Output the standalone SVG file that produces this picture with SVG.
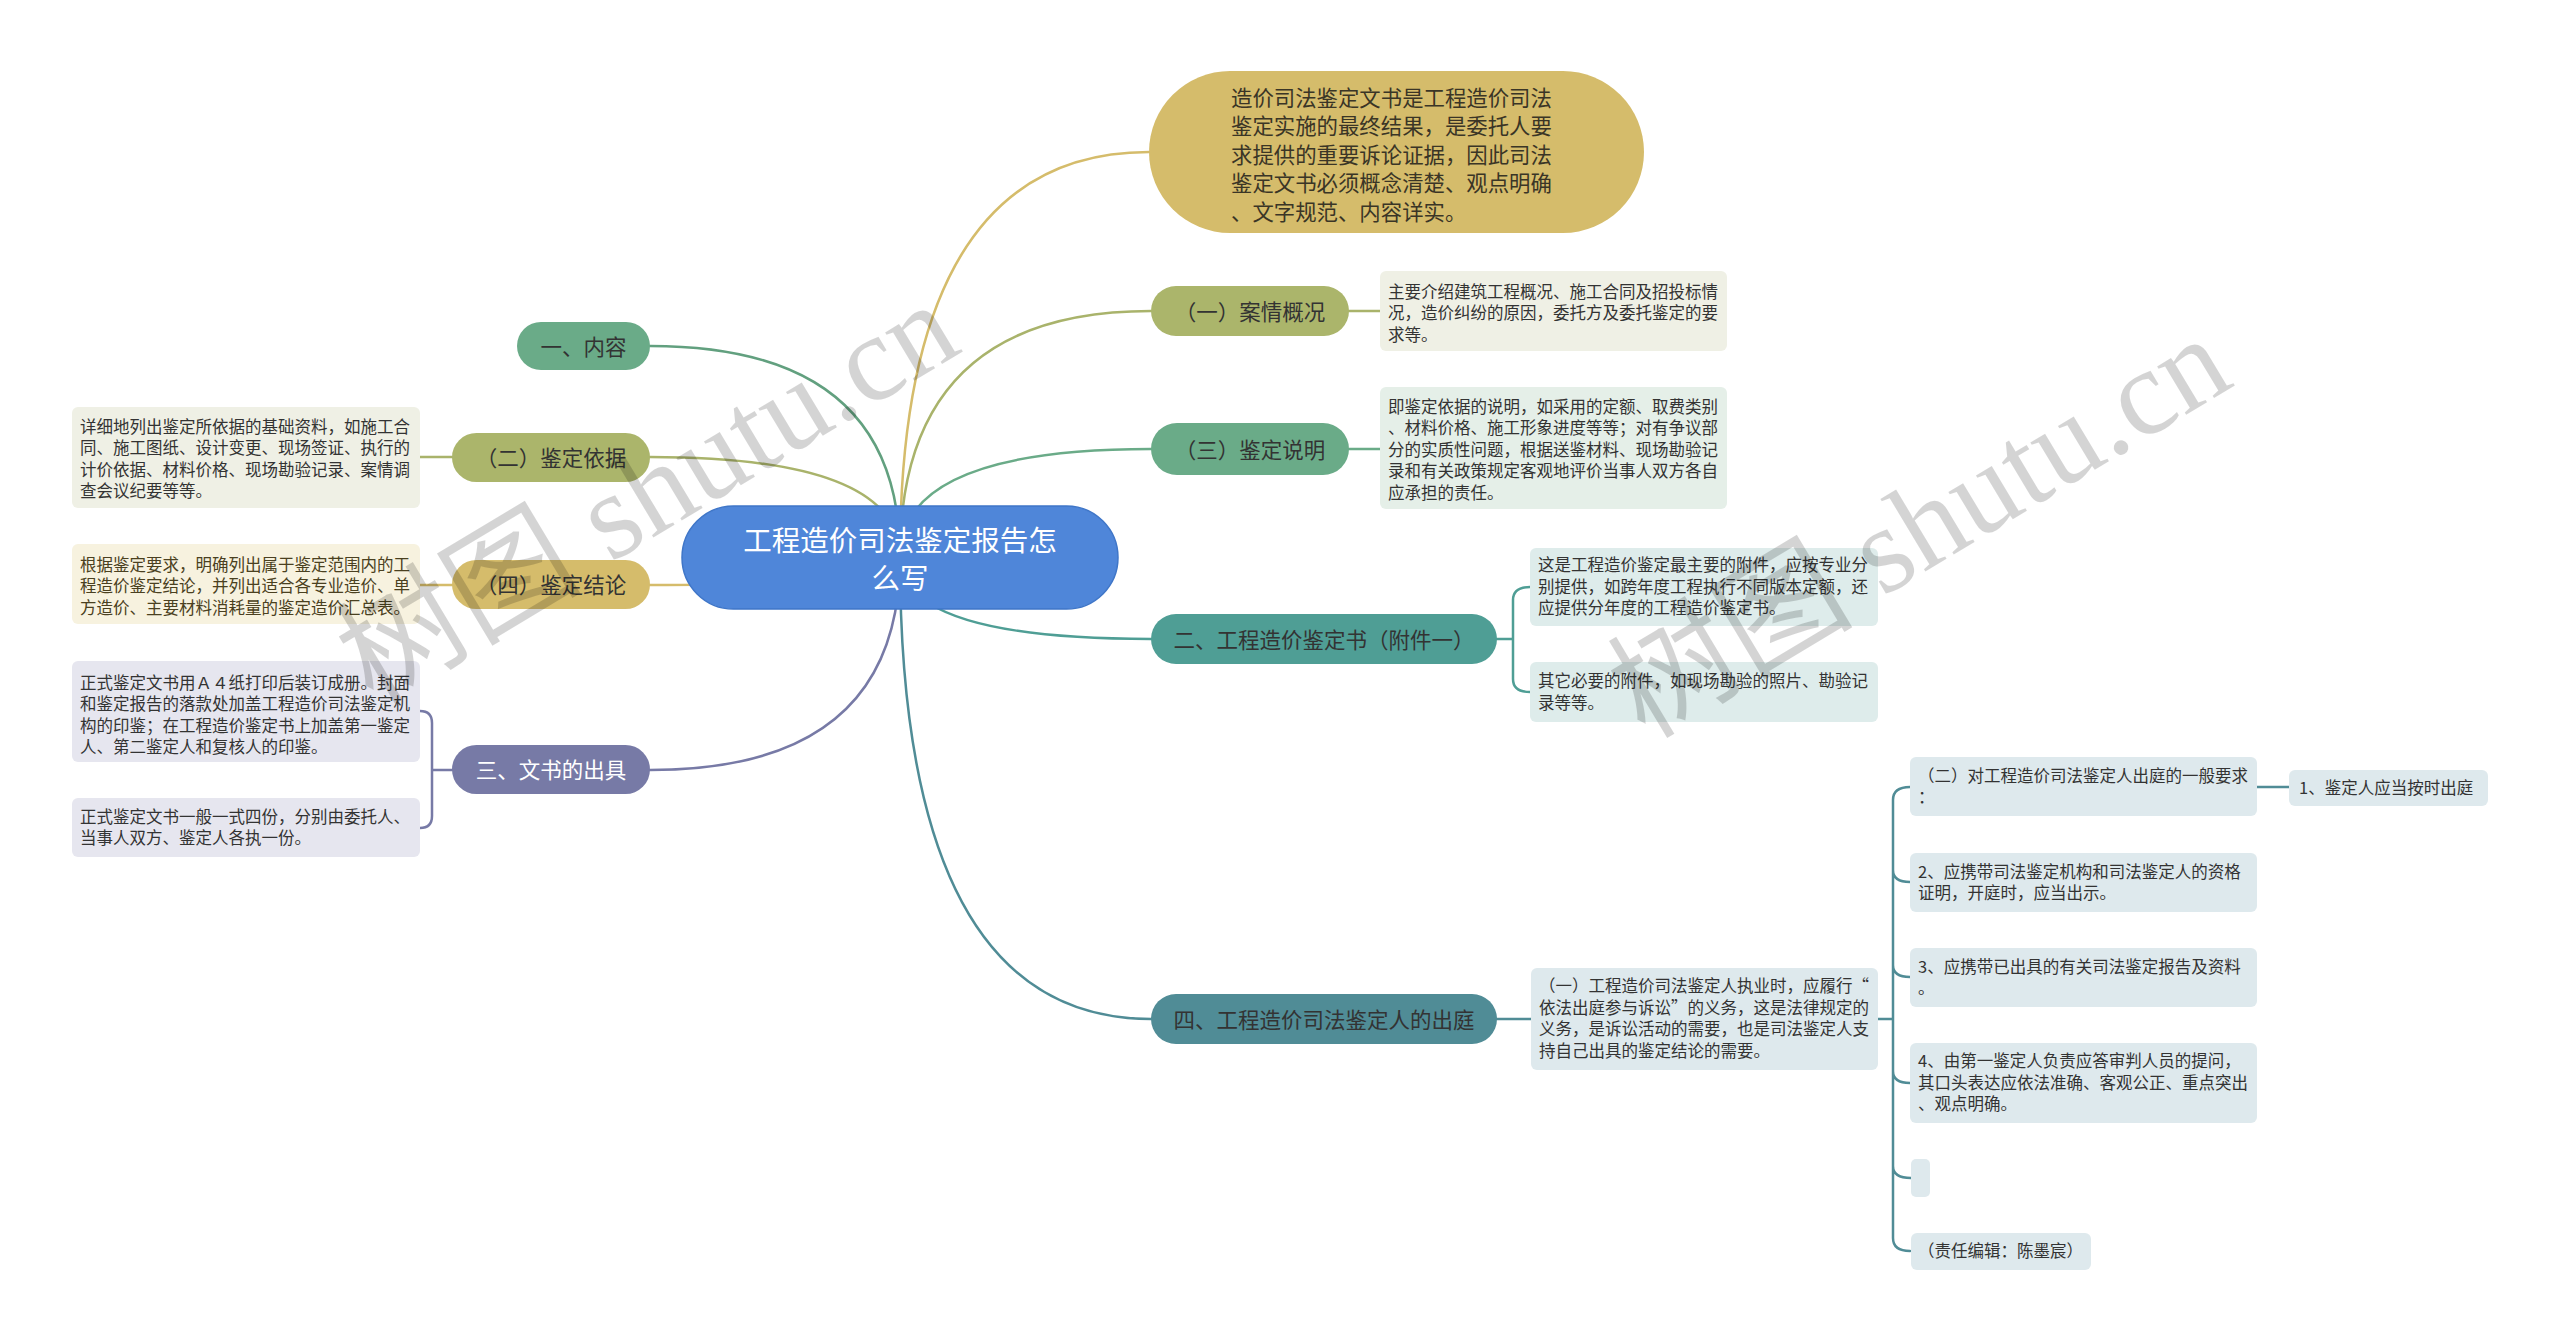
<svg xmlns="http://www.w3.org/2000/svg" width="2560" height="1342" viewBox="0 0 2560 1342">
<style>
text{font-family:"Noto Sans CJK SC","Noto Sans",sans-serif;}
.lbl{font-size:21.5px;fill:#333;text-anchor:middle;dominant-baseline:central;}
.lblw{font-size:21.5px;fill:#fff;text-anchor:middle;dominant-baseline:central;}
.txt{font-size:16.5px;fill:#333;dominant-baseline:central;}
.big{font-size:21.4px;fill:#3a3526;dominant-baseline:central;}
.ctr{font-size:28.5px;fill:#fff;text-anchor:middle;dominant-baseline:central;}
.e{fill:none;stroke-width:2.5;stroke-linecap:round;}
.wm{font-family:"Liberation Serif","Noto Sans CJK SC",serif;font-size:123px;fill:#000;fill-opacity:0.17;}
</style>
<rect width="2560" height="1342" fill="#fff"/>
<g id="connectors">
<path class="e" stroke="#62a07f" d="M900,557 Q900,346 650,346"/>
<path class="e" stroke="#a9b36b" d="M900,557 Q900,457 650,457"/>
<path class="e" stroke="#d5bc6b" d="M900,557 Q900,585 650,585"/>
<path class="e" stroke="#777aa6" d="M900,557 Q900,770 650,770"/>
<path class="e" stroke="#d5bc6b" d="M900,557 Q900,152 1149,152"/>
<path class="e" stroke="#a9b36b" d="M900,557 Q900,311 1151,311"/>
<path class="e" stroke="#6aab88" d="M900,557 Q900,449 1151,449"/>
<path class="e" stroke="#4f9e95" d="M900,557 Q900,639 1151,639"/>
<path class="e" stroke="#508c96" d="M900,557 Q900,1019 1151,1019"/>
<path class="e" stroke="#a9b36b" d="M420,457 L452,457"/>
<path class="e" stroke="#d5bc6b" d="M420,585 L452,585"/>
<path class="e" stroke="#777aa6" d="M452,770 L432,770 M420,711 Q432,711 432,723 L432,816 Q432,828 420,828"/>
<path class="e" stroke="#a9b36b" d="M1349,311 L1380,311"/>
<path class="e" stroke="#6aab88" d="M1349,449 L1380,449"/>
<path class="e" stroke="#4f9e95" d="M1497,639 L1513,639 M1530,587 Q1513,587 1513,600 L1513,679 Q1513,692 1530,692"/>
<path class="e" stroke="#508c96" d="M1497,1019 L1531,1019 M1878,1019 L1893,1019 M1910,787 Q1893,787 1893,800 L1893,1238 Q1893,1251 1910,1251 M1893,870 Q1893,882 1910,882 M1893,965 Q1893,977 1910,977 M1893,1071 Q1893,1083 1910,1083 M1893,1166 Q1893,1178 1911,1178 M2257,787 L2289,787"/>
</g>
<g id="center">
<rect x="682" y="506" width="436" height="103" rx="51.5" fill="#4f86d9" stroke="#3f76c8" stroke-width="1.5"/>
<text class="ctr" x="900" y="538">工程造价司法鉴定报告怎</text>
<text class="ctr" x="900" y="576">么写</text>
</g>
<g id="intro">
<rect x="1149" y="71" width="495" height="162" rx="81" fill="#d5bc6b"/>
<text class="big"><tspan x="1231" y="95.5">造价司法鉴定文书是工程造价司法</tspan><tspan x="1231" y="124">鉴定实施的最终结果，是委托人要</tspan><tspan x="1231" y="152.5">求提供的重要诉论证据，因此司法</tspan><tspan x="1231" y="181">鉴定文书必须概念清楚、观点明确</tspan><tspan x="1231" y="209.5">、文字规范、内容详实。</tspan></text>
</g>
<g id="n-neirong">
<rect x="517" y="322" width="133" height="48" rx="24" fill="#6aab88"/>
<text class="lbl" x="583.5" y="345">一、内容</text>
</g>
<g id="n-yiju">
<rect x="452" y="433" width="198" height="49" rx="24.5" fill="#abb56b"/>
<text class="lbl" x="551" y="456.5">（二）鉴定依据</text>
</g>
<g id="n-yiju-desc">
<rect x="72" y="407" width="348" height="101" rx="6" fill="#eff0e5"/>
<text class="txt"><tspan x="80" y="425.5">详细地列出鉴定所依据的基础资料，如施工合</tspan><tspan x="80" y="447">同、施工图纸、设计变更、现场签证、执行的</tspan><tspan x="80" y="468.5">计价依据、材料价格、现场勘验记录、案情调</tspan><tspan x="80" y="490">查会议纪要等等。</tspan></text>
</g>
<g id="n-jielun">
<rect x="452" y="560" width="198" height="49" rx="24.5" fill="#d5bc6b"/>
<text class="lbl" x="551" y="583.5">（四）鉴定结论</text>
</g>
<g id="n-jielun-desc">
<rect x="72" y="544" width="348" height="80" rx="6" fill="#f7f2df"/>
<text class="txt" style="fill:#4a4020"><tspan x="80" y="563.5">根据鉴定要求，明确列出属于鉴定范围内的工</tspan><tspan x="80" y="585">程造价鉴定结论，并列出适合各专业造价、单</tspan><tspan x="80" y="606.5">方造价、主要材料消耗量的鉴定造价汇总表。</tspan></text>
</g>
<g id="n-chuju">
<rect x="452" y="745" width="198" height="49" rx="24.5" fill="#777aa6"/>
<text class="lblw" x="551" y="768.5">三、文书的出具</text>
</g>
<g id="n-chuju-d1">
<rect x="72" y="661" width="348" height="101" rx="6" fill="#e6e6ef"/>
<text class="txt"><tspan x="80" y="681.5">正式鉴定文书用Ａ４纸打印后装订成册。封面</tspan><tspan x="80" y="703">和鉴定报告的落款处加盖工程造价司法鉴定机</tspan><tspan x="80" y="724.5">构的印鉴；在工程造价鉴定书上加盖第一鉴定</tspan><tspan x="80" y="746">人、第二鉴定人和复核人的印鉴。</tspan></text>
</g>
<g id="n-chuju-d2">
<rect x="72" y="798" width="348" height="59" rx="6" fill="#e6e6ef"/>
<text class="txt"><tspan x="80" y="815.5">正式鉴定文书一般一式四份，分别由委托人、</tspan><tspan x="80" y="837">当事人双方、鉴定人各执一份。</tspan></text>
</g>
<g id="r-anqing">
<rect x="1151" y="286" width="198" height="50" rx="25" fill="#abb56b"/>
<text class="lbl" x="1250" y="310">（一）案情概况</text>
</g>
<g id="r-anqing-desc">
<rect x="1380" y="271" width="347" height="80" rx="6" fill="#eff0e5"/>
<text class="txt"><tspan x="1388" y="290.5">主要介绍建筑工程概况、施工合同及招投标情</tspan><tspan x="1388" y="312">况，造价纠纷的原因，委托方及委托鉴定的要</tspan><tspan x="1388" y="333.5">求等。</tspan></text>
</g>
<g id="r-shuoming">
<rect x="1151" y="423" width="198" height="52" rx="26" fill="#6aab88"/>
<text class="lbl" x="1250" y="448">（三）鉴定说明</text>
</g>
<g id="r-shuoming-desc">
<rect x="1380" y="387" width="347" height="122" rx="6" fill="#e5efe8"/>
<text class="txt"><tspan x="1388" y="405.5">即鉴定依据的说明，如采用的定额、取费类别</tspan><tspan x="1388" y="427">、材料价格、施工形象进度等等；对有争议部</tspan><tspan x="1388" y="448.5">分的实质性问题，根据送鉴材料、现场勘验记</tspan><tspan x="1388" y="470">录和有关政策规定客观地评价当事人双方各自</tspan><tspan x="1388" y="491.5">应承担的责任。</tspan></text>
</g>
<g id="r-jiandingshu">
<rect x="1151" y="614" width="346" height="50" rx="25" fill="#4f9e95"/>
<text class="lbl" x="1324" y="638">二、工程造价鉴定书（附件一）</text>
</g>
<g id="r-jiandingshu-c1">
<rect x="1530" y="548" width="348" height="78" rx="6" fill="#deeceb"/>
<text class="txt"><tspan x="1538" y="564">这是工程造价鉴定最主要的附件，应按专业分</tspan><tspan x="1538" y="585.5">别提供，如跨年度工程执行不同版本定额，还</tspan><tspan x="1538" y="607">应提供分年度的工程造价鉴定书。</tspan></text>
</g>
<g id="r-jiandingshu-c2">
<rect x="1530" y="662" width="348" height="60" rx="6" fill="#deeceb"/>
<text class="txt"><tspan x="1538" y="680">其它必要的附件，如现场勘验的照片、勘验记</tspan><tspan x="1538" y="701.5">录等等。</tspan></text>
</g>
<g id="r-chuting">
<rect x="1151" y="994" width="346" height="50" rx="25" fill="#508c96"/>
<text class="lbl" x="1324" y="1018">四、工程造价司法鉴定人的出庭</text>
</g>
<g id="r-chuting-p">
<rect x="1531" y="968" width="347" height="102" rx="6" fill="#dee9ed"/>
<text class="txt"><tspan x="1539" y="985">（一）工程造价司法鉴定人执业时，应履行“</tspan><tspan x="1539" y="1006.5">依法出庭参与诉讼”的义务，这是法律规定的</tspan><tspan x="1539" y="1028">义务，是诉讼活动的需要，也是司法鉴定人支</tspan><tspan x="1539" y="1049.5">持自己出具的鉴定结论的需要。</tspan></text>
</g>
<g id="r-chuting-c1">
<rect x="1910" y="757" width="347" height="59" rx="6" fill="#dee9ed"/>
<text class="txt"><tspan x="1918" y="774.5">（二）对工程造价司法鉴定人出庭的一般要求</tspan><tspan x="1918" y="796">：</tspan></text>
</g>
<g id="r-chuting-c1a">
<rect x="2289" y="770" width="199" height="36" rx="6" fill="#dee9ed"/>
<text class="txt" x="2299" y="786.5">1、鉴定人应当按时出庭</text>
</g>
<g id="r-chuting-c2">
<rect x="1910" y="853" width="347" height="59" rx="6" fill="#dee9ed"/>
<text class="txt"><tspan x="1918" y="870.5">2、应携带司法鉴定机构和司法鉴定人的资格</tspan><tspan x="1918" y="892">证明，开庭时，应当出示。</tspan></text>
</g>
<g id="r-chuting-c3">
<rect x="1910" y="948" width="347" height="59" rx="6" fill="#dee9ed"/>
<text class="txt"><tspan x="1918" y="965.5">3、应携带已出具的有关司法鉴定报告及资料</tspan><tspan x="1918" y="987">。</tspan></text>
</g>
<g id="r-chuting-c4">
<rect x="1910" y="1043" width="347" height="80" rx="6" fill="#dee9ed"/>
<text class="txt"><tspan x="1918" y="1060">4、由第一鉴定人负责应答审判人员的提问，</tspan><tspan x="1918" y="1081.5">其口头表达应依法准确、客观公正、重点突出</tspan><tspan x="1918" y="1103">、观点明确。</tspan></text>
</g>
<g id="r-chuting-c5">
<rect x="1911" y="1159" width="19" height="38" rx="5" fill="#dee9ed"/>
</g>
<g id="r-chuting-c6">
<rect x="1911" y="1233" width="180" height="37" rx="6" fill="#dee9ed"/>
<text class="txt" x="1918" y="1250">（责任编辑：陈墨宸）</text>
</g>
<g id="watermark">
<text class="wm" transform="translate(373,706) rotate(-31)">树图 shutu.cn</text>
<text class="wm" transform="translate(1645,740) rotate(-31)">树图 shutu.cn</text>
</g>
</svg>
